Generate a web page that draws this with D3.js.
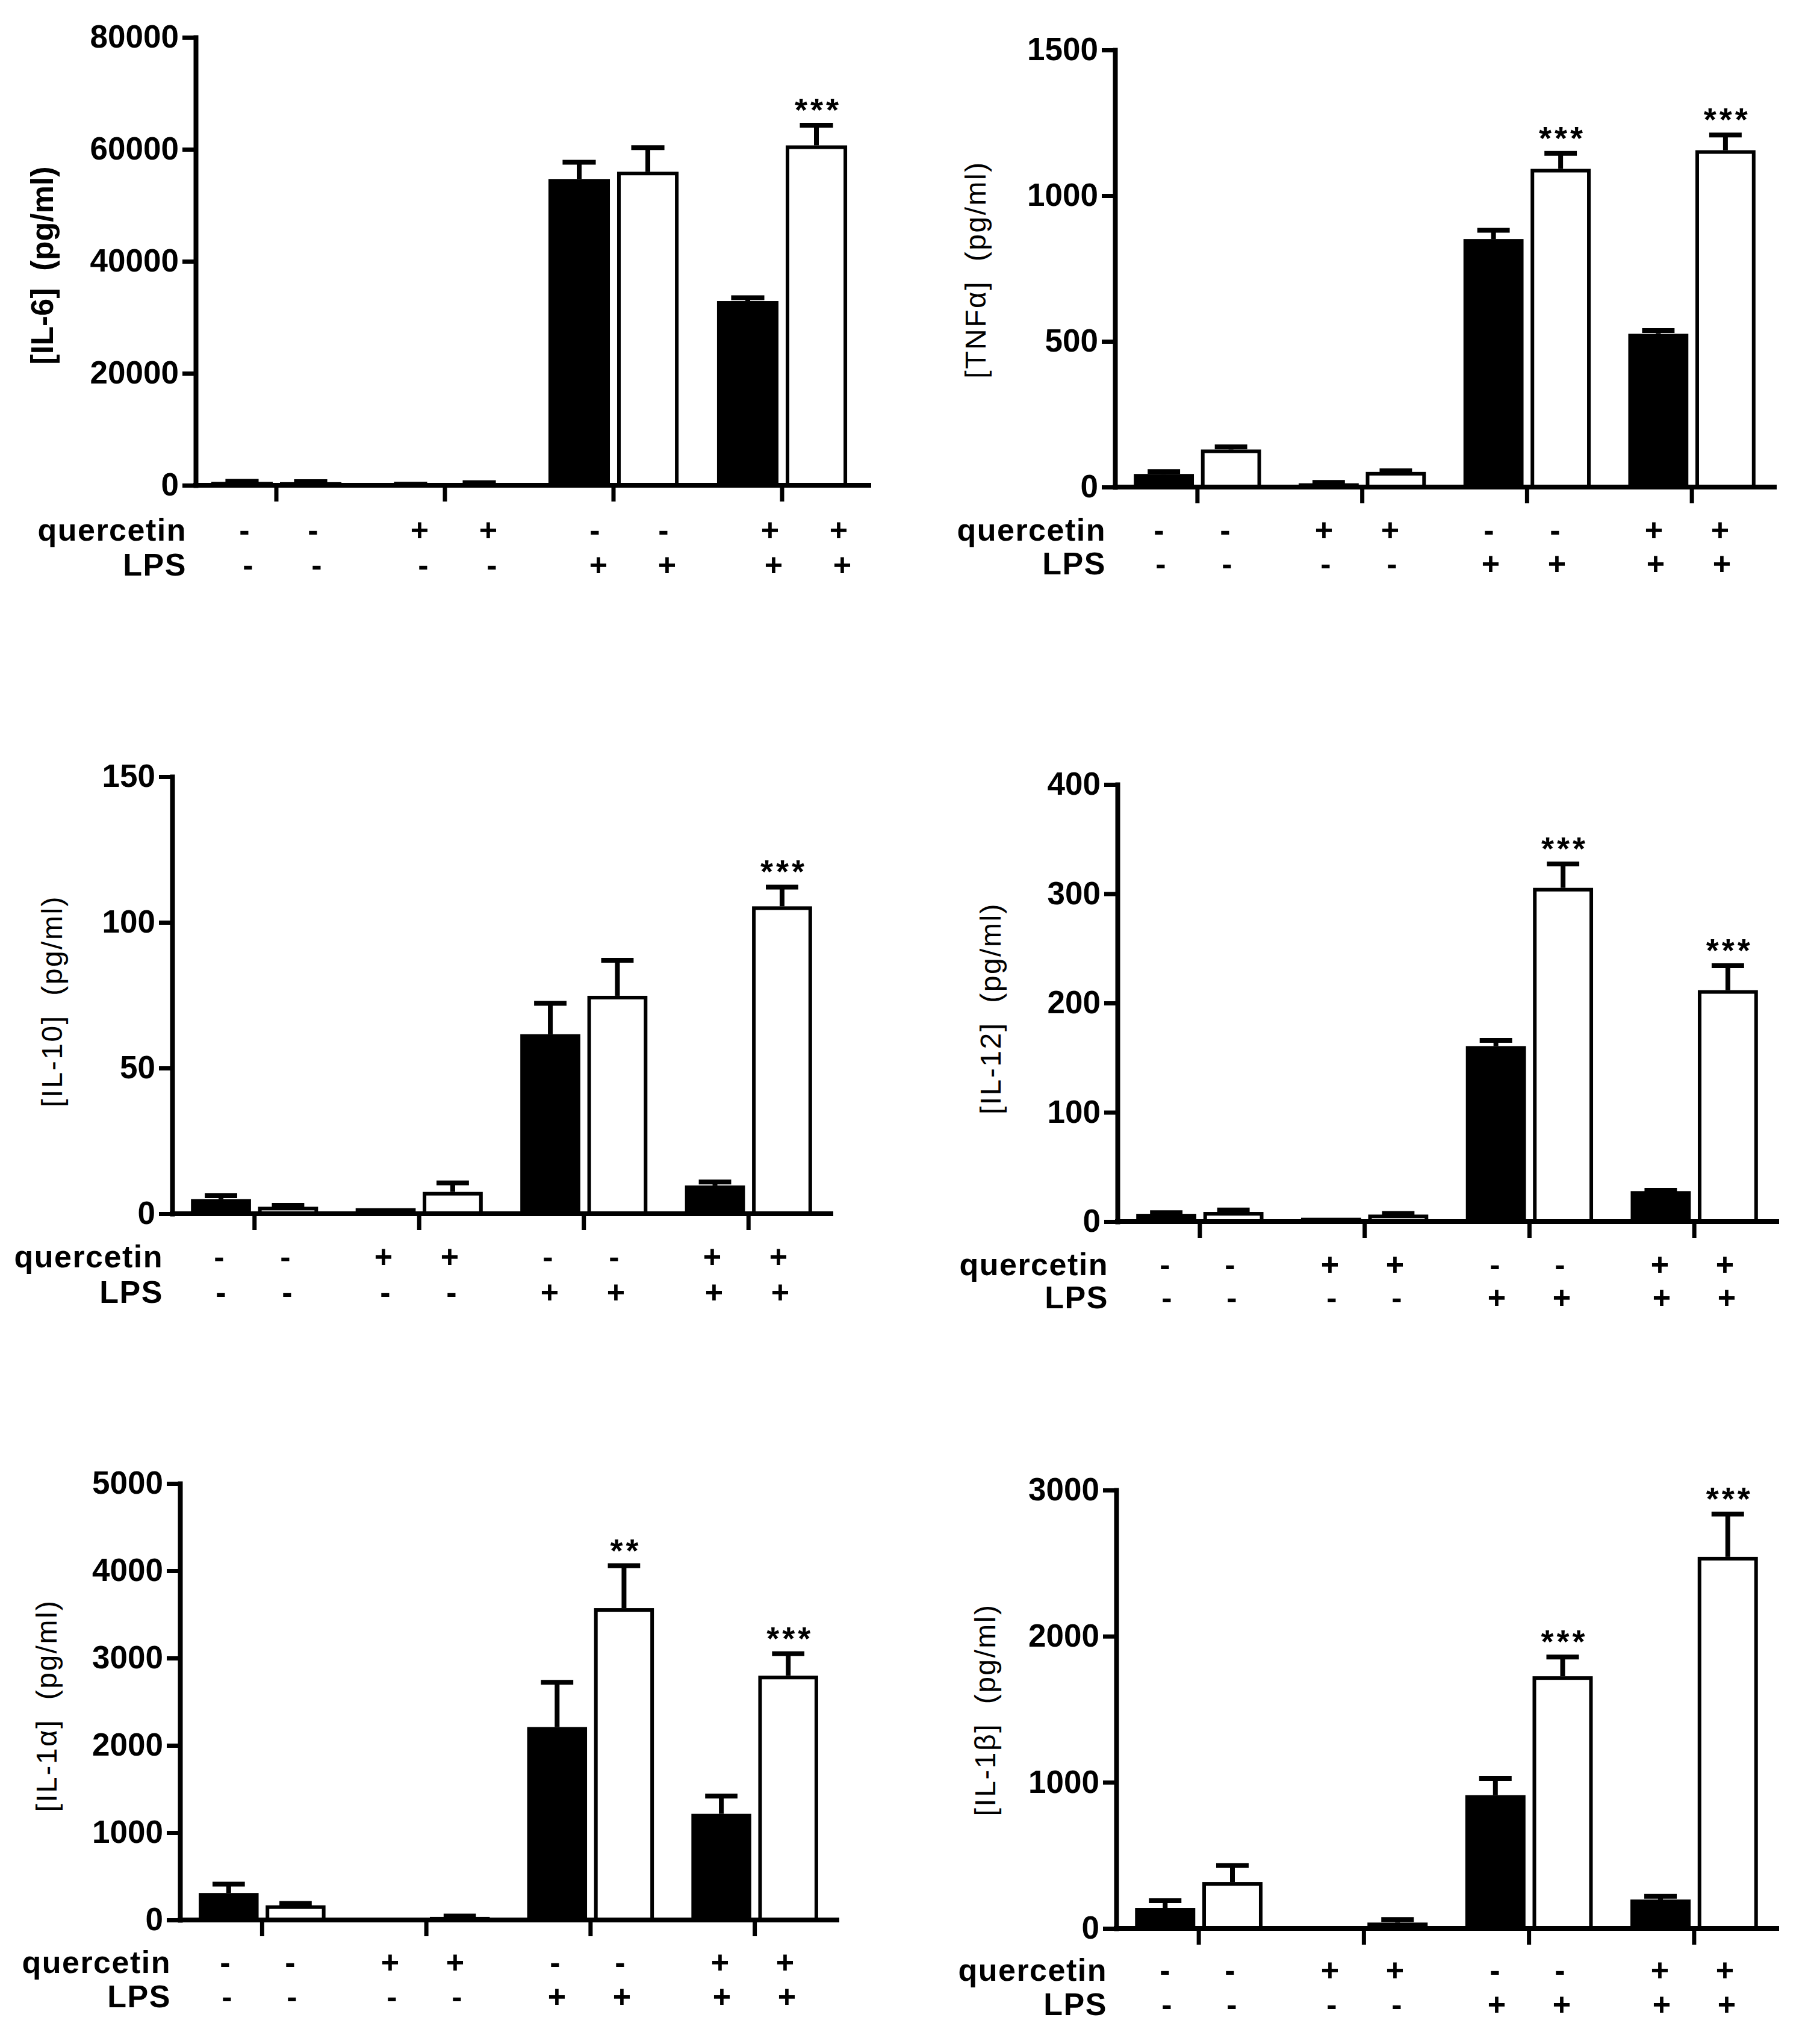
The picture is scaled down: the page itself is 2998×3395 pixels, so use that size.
<!DOCTYPE html>
<html><head><meta charset="utf-8">
<script src="https://cdn.jsdelivr.net/npm/d3@7"></script>
<style>body{margin:0;background:#fff}svg{display:block}</style>
</head><body><svg id="chart"></svg>
<script>
// ---------- data ----------
const groups = ["g1", "g2", "g3", "g4"];
const quercetin = ["-", "-", "+", "+", "-", "-", "+", "+"];
const lps = ["-", "-", "-", "-", "+", "+", "+", "+"];

const il6Mean = [600, 550, 150, 400, 54700, 56000, 32900, 60700];
const il6Err  = [700, 650, 200, 450, 57700, 60300, 33500, 64300];
const il6Stars = ["", "", "", "", "", "", "", "***"];
const il6Ticks = [0, 20000, 40000, 60000, 80000];

const tnfMean = [45, 129, 13, 52, 851, 1092, 526, 1156];
const tnfErr  = [53, 138, 16, 56, 881, 1145, 537, 1208];
const tnfStars = ["", "", "", "", "", "***", "", "***"];
const tnfTicks = [0, 500, 1000, 1500];

const il10Mean = [5.0, 2.4, 1.9, 7.5, 61.6, 74.8, 9.7, 105.5];
const il10Err  = [6.2, 2.9, 1.9, 10.6, 72.2, 87.0, 10.9, 112.1];
const il10Stars = ["", "", "", "", "", "", "", "***"];
const il10Ticks = [0, 50, 100, 150];

const il12Mean = [7.1, 8.8, 3.5, 6.4, 160.6, 305.4, 27.9, 211.8];
const il12Err  = [8.1, 10.6, 3.5, 7.4, 165.9, 327.3, 28.6, 234.1];
const il12Stars = ["", "", "", "", "", "***", "", "***"];
const il12Ticks = [0, 100, 200, 300, 400];

const il1aMean = [309, 168, 5, 35, 2210, 3572, 1216, 2798];
const il1aErr  = [411, 190, 5, 44, 2723, 4058, 1419, 3050];
const il1aStars = ["", "", "", "", "", "**", "", "***"];
const il1aTicks = [0, 1000, 2000, 3000, 4000, 5000];

const il1bMean = [140, 317, 3, 40, 912, 1726, 198, 2543];
const il1bErr  = [190, 431, 3, 61, 1026, 1858, 219, 2836];
const il1bStars = ["", "", "", "", "", "***", "", "***"];
const il1bTicks = [0, 1000, 2000, 3000];

// ---------- layout ----------
const W = 2998, H = 3395;
const panels = [
  {mean: il6Mean, err: il6Err, stars: il6Stars, ticks: il6Ticks, label: "[IL-6]  (pg/ml)", bold: true,
   ax: 325, ex: 1443, bx0: 319, bx1: 1439, y0: 806, y1: 62, labX: 70, labY: 441, qOff: 92, lOff: 150,
   s0: 463, sStep: 291, sHalf: 57, lShift: 6},
  {mean: tnfMean, err: tnfErr, stars: tnfStars, ticks: tnfTicks, label: "[TNF\u03B1]  (pg/ml)", bold: false,
   ax: 1852, ex: 2947, bx0: 1852, bx1: 2947, y0: 809, y1: 83, labX: 1620, labY: 448, qOff: 89, lOff: 145,
   s0: 1980, sStep: 274, sHalf: 55, lShift: 3},
  {mean: il10Mean, err: il10Err, stars: il10Stars, ticks: il10Ticks, label: "[IL-10]  (pg/ml)", bold: false,
   ax: 286, ex: 1380, bx0: 286, bx1: 1380, y0: 2016, y1: 1290, labX: 86, labY: 1663, qOff: 89, lOff: 148,
   s0: 419, sStep: 273, sHalf: 55, lShift: 3},
  {mean: il12Mean, err: il12Err, stars: il12Stars, ticks: il12Ticks, label: "[IL-12]  (pg/ml)", bold: false,
   ax: 1856, ex: 2951, bx0: 1856, bx1: 2951, y0: 2029, y1: 1303, labX: 1645, labY: 1675, qOff: 89, lOff: 144,
   s0: 1989, sStep: 274, sHalf: 54, lShift: 3},
  {mean: il1aMean, err: il1aErr, stars: il1aStars, ticks: il1aTicks, label: "[IL-1\u03B1]  (pg/ml)", bold: false,
   ax: 299, ex: 1390, bx0: 299, bx1: 1390, y0: 3189, y1: 2464, labX: 77, labY: 2833, qOff: 88, lOff: 145,
   s0: 428, sStep: 274, sHalf: 54, lShift: 3},
  {mean: il1bMean, err: il1bErr, stars: il1bStars, ticks: il1bTicks, label: "[IL-1\u03B2]  (pg/ml)", bold: false,
   ax: 1854, ex: 2951, bx0: 1854, bx1: 2951, y0: 3203, y1: 2475, labX: 1636, labY: 2840, qOff: 87, lOff: 144,
   s0: 1989, sStep: 274, sHalf: 54, lShift: 3}
];

const FONT = "'Liberation Sans', Arial, Helvetica, sans-serif";
const SW = 6;    // bar outline
const EW = 8;    // error bar line

const svg = d3.select("#chart").attr("width", W).attr("height", H)
  .attr("viewBox", `0 0 ${W} ${H}`);
svg.append("rect").attr("width", W).attr("height", H).attr("fill", "#fff");

panels.forEach(p => {
  const g = svg.append("g");
  const yMax = p.ticks[p.ticks.length - 1];
  const y = d3.scaleLinear().domain([0, yMax]).range([p.y0, p.y1]);
  const gx = d3.scaleBand().domain(groups).range([p.bx0, p.bx1]).paddingInner(0).paddingOuter(0);
  const ix = d3.scaleBand().domain([0, 1]).range([0, gx.bandwidth()]).paddingInner(0.105).paddingOuter(0.28);
  const bw = ix.bandwidth();
  const sx = d3.scaleLinear().domain([0, 3]).range([p.s0, p.s0 + 3 * p.sStep]);

  const bars = p.mean.map((v, i) => ({
    v, e: p.err[i], s: p.stars[i], q: quercetin[i], l: lps[i],
    x: gx(groups[Math.floor(i / 2)]) + ix(i % 2), filled: i % 2 === 0,
    sx: sx(Math.floor(i / 2)) + (i % 2 ? p.sHalf : -p.sHalf)
  }));

  // bars
  g.selectAll("rect.bar").data(bars).join("rect")
    .attr("class", "bar")
    .attr("x", d => d.x + SW / 2)
    .attr("width", bw - SW)
    .attr("y", d => Math.min(y(d.v) + SW / 2, p.y0))
    .attr("height", d => Math.max(0, p.y0 - y(d.v) - SW / 2))
    .attr("fill", d => d.filled ? "#000" : "#fff")
    .attr("stroke", "#000").attr("stroke-width", SW);

  // error bars (upper only)
  const cap = bw * 0.54;
  bars.filter(d => d.e > d.v).forEach(d => {
    const cx = d.x + bw / 2;
    g.append("line").attr("x1", cx).attr("x2", cx)
      .attr("y1", y(d.v)).attr("y2", y(d.e))
      .attr("stroke", "#000").attr("stroke-width", EW);
    g.append("line").attr("x1", cx - cap / 2).attr("x2", cx + cap / 2)
      .attr("y1", y(d.e)).attr("y2", y(d.e))
      .attr("stroke", "#000").attr("stroke-width", EW);
  });

  // significance stars
  g.selectAll("text.star").data(bars.filter(d => d.s)).join("text")
    .attr("class", "star")
    .attr("x", d => d.x + bw / 2 + 3)
    .attr("y", d => y(d.e) - 7)
    .attr("text-anchor", "middle")
    .attr("font-family", FONT).attr("font-size", 54).attr("font-weight", "bold")
    .attr("letter-spacing", 5)
    .text(d => d.s);

  // y axis
  const ya = g.append("g").attr("transform", `translate(${p.ax},0)`)
    .call(d3.axisLeft(y).tickValues(p.ticks).tickFormat(d3.format("d")).tickSize(22).tickSizeOuter(0).tickPadding(6));
  ya.select(".domain").attr("stroke-width", 8).attr("stroke-linecap", "square");
  ya.selectAll(".tick line").attr("stroke-width", 7);
  ya.selectAll(".tick text").attr("font-family", FONT).attr("font-size", 53)
    .attr("font-weight", "bold").attr("fill", "#000");

  // x axis (ticks from the band scale, baseline from the y axis to the end)
  const xa = g.append("g").attr("transform", `translate(0,${p.y0})`)
    .call(d3.axisBottom(gx).tickFormat("").tickSize(27).tickSizeOuter(0));
  xa.select(".domain").remove();
  xa.selectAll(".tick line").attr("stroke-width", 7);
  xa.append("line").attr("x1", p.ax).attr("x2", p.ex).attr("y1", 0).attr("y2", 0)
    .attr("stroke", "#000").attr("stroke-width", 8).attr("stroke-linecap", "square");

  // condition rows
  const rows = [["quercetin", p.qOff, "q", 0], ["LPS", p.lOff, "l", p.lShift]];
  rows.forEach(([name, off, key, shift]) => {
    g.append("text").attr("x", p.ax - 15).attr("y", p.y0 + off)
      .attr("text-anchor", "end").attr("font-family", FONT).attr("font-size", 52)
      .attr("font-weight", "bold").attr("letter-spacing", 1.5).text(name);
    g.selectAll("text.sign-" + key).data(bars).join("text")
      .attr("class", "sign-" + key)
      .attr("x", d => d.sx + shift).attr("y", p.y0 + off)
      .attr("text-anchor", "middle").attr("font-family", FONT).attr("font-size", 52)
      .attr("font-weight", "bold").text(d => d[key]);
  });

  // y label
  g.append("text")
    .attr("transform", `translate(${p.labX},${p.labY}) rotate(-90)`)
    .attr("text-anchor", "middle").attr("dominant-baseline", "central")
    .attr("font-family", FONT).attr("font-size", p.bold ? 52 : 48)
    .attr("font-weight", p.bold ? "bold" : "normal")
    .attr("letter-spacing", p.bold ? 0 : 2.5)
    .attr("xml:space", "preserve").style("white-space", "pre")
    .text(p.label);
});
</script>
</body></html>
